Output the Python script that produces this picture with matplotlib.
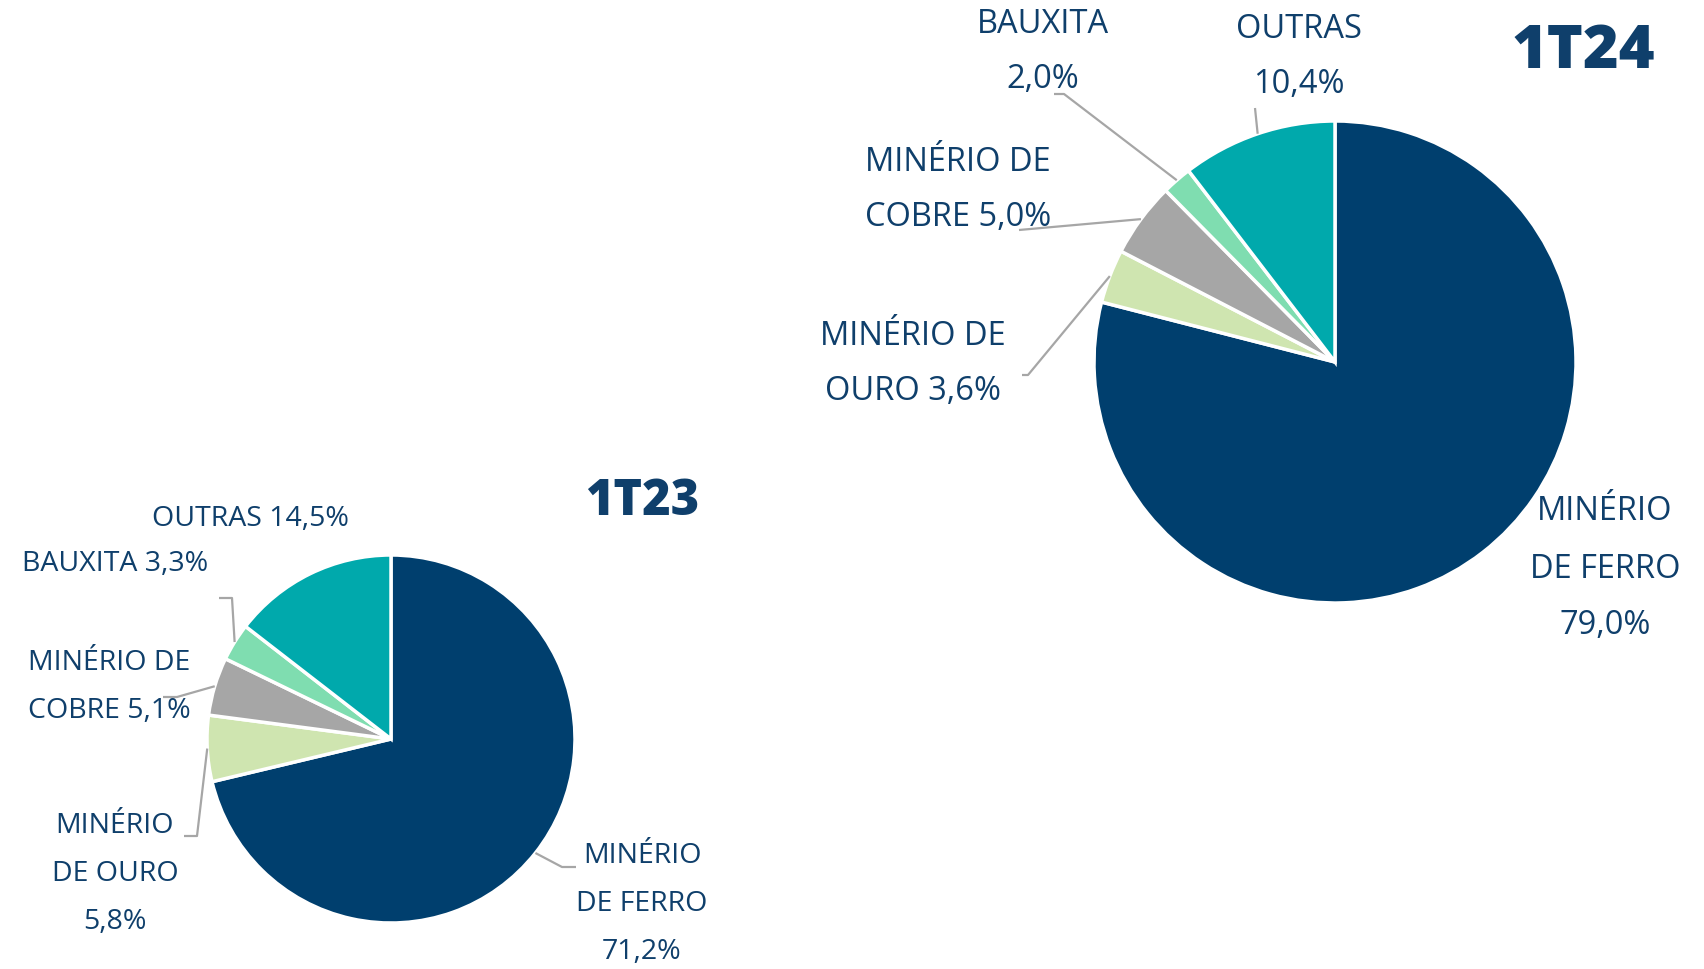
import numpy as np
import matplotlib
matplotlib.use("Agg")
import matplotlib.pyplot as plt

# Participação por minério
categories = ["MINÉRIO DE FERRO", "MINÉRIO DE OURO", "MINÉRIO DE COBRE", "BAUXITA", "OUTRAS"]
values_1t23 = [71.2, 5.8, 5.1, 3.3, 14.5]
values_1t24 = [79.0, 3.6, 5.0, 2.0, 10.4]
colors = ["#003F6E", "#CFE5B0", "#A6A6A6", "#7FDDB0", "#00A9AC"]

navy = "#0F3F6B"
line_grey = "#A6A6A6"
W, H = 1704, 969

fig = plt.figure(figsize=(W / 100, H / 100), dpi=100)
ax = fig.add_axes([0, 0, 1, 1])


def fy(y):
    # image row -> data y
    return H - y


def fmt(v):
    return f"{v:.1f}".replace(".", ",") + "%"


def edge_point(values, i, cx, cy, r):
    # midpoint of wedge i on the rim (clockwise from 12 o'clock)
    cum = np.cumsum([0] + list(values))
    mid = (cum[i] + cum[i + 1]) / 2 / sum(values) * 2 * np.pi
    return cx + r * np.sin(mid), fy(cy) + r * np.cos(mid)


def draw_pie(values, cx, cy, r):
    ax.pie(values, colors=colors, startangle=90, counterclock=False,
           center=(cx, fy(cy)), radius=r, frame=True,
           wedgeprops=dict(edgecolor="white", linewidth=2.5))


def leader(values, i, cx, cy, r, knees):
    ex, ey = edge_point(values, i, cx, cy, r)
    xs = [k[0] for k in knees] + [ex]
    ys = [fy(k[1]) for k in knees] + [ey]
    ax.plot(xs, ys, color=line_grey, lw=1.6, solid_capstyle="butt", zorder=1)


def label(x, y, lines, size, step):
    for j, t in enumerate(lines):
        ax.text(x, fy(y + j * step), t, ha="center", va="center",
                fontsize=size, color=navy, family="Open Sans")


# ---- 1T24 ----
c24 = (1335, 362, 241)
draw_pie(values_1t24, *c24)
leader(values_1t24, 3, *c24, [(1054, 94), (1064, 94)])
leader(values_1t24, 4, *c24, [(1255, 108)])
leader(values_1t24, 2, *c24, [(1019, 230)])
leader(values_1t24, 1, *c24, [(1022, 375), (1028, 375)])

s24, st24 = 23.5, 55
label(1043, 24, ["BAUXITA", fmt(values_1t24[3])], s24, st24)
label(1299, 29, ["OUTRAS", fmt(values_1t24[4])], s24, st24)
label(958, 162, ["MINÉRIO DE", "COBRE " + fmt(values_1t24[2])], s24, st24)
label(913, 336, ["MINÉRIO DE", "OURO " + fmt(values_1t24[1])], s24, st24)
label(1605, 512, ["MINÉRIO", "DE FERRO", fmt(values_1t24[0])], s24, 57)
ax.text(1583, fy(52), "1T24", ha="center", va="center", fontsize=44,
        fontweight="heavy", color=navy, family="Open Sans")

# ---- 1T23 ----
c23 = (391, 739, 184)
draw_pie(values_1t23, *c23)
leader(values_1t23, 3, *c23, [(219, 598), (232, 598)])
leader(values_1t23, 2, *c23, [(163, 697), (177, 697)])
leader(values_1t23, 1, *c23, [(184, 836), (197, 836)])
leader(values_1t23, 0, *c23, [(576, 867), (562, 867)])

s23, st23 = 20.5, 48
label(250, 519, ["OUTRAS " + fmt(values_1t23[4])], s23, st23)
label(115, 564, ["BAUXITA " + fmt(values_1t23[3])], s23, st23)
label(109, 663, ["MINÉRIO DE", "COBRE " + fmt(values_1t23[2])], s23, st23)
label(115, 826, ["MINÉRIO", "DE OURO", fmt(values_1t23[1])], s23, st23)
label(642, 856, ["MINÉRIO", "DE FERRO", fmt(values_1t23[0])], s23, st23)
ax.text(642, fy(502), "1T23", ha="center", va="center", fontsize=35,
        fontweight="heavy", color=navy, family="Open Sans")

ax.set_xlim(0, W)
ax.set_ylim(0, H)
ax.set_aspect("equal")
ax.axis("off")

fig.savefig("out.png", dpi=100)
